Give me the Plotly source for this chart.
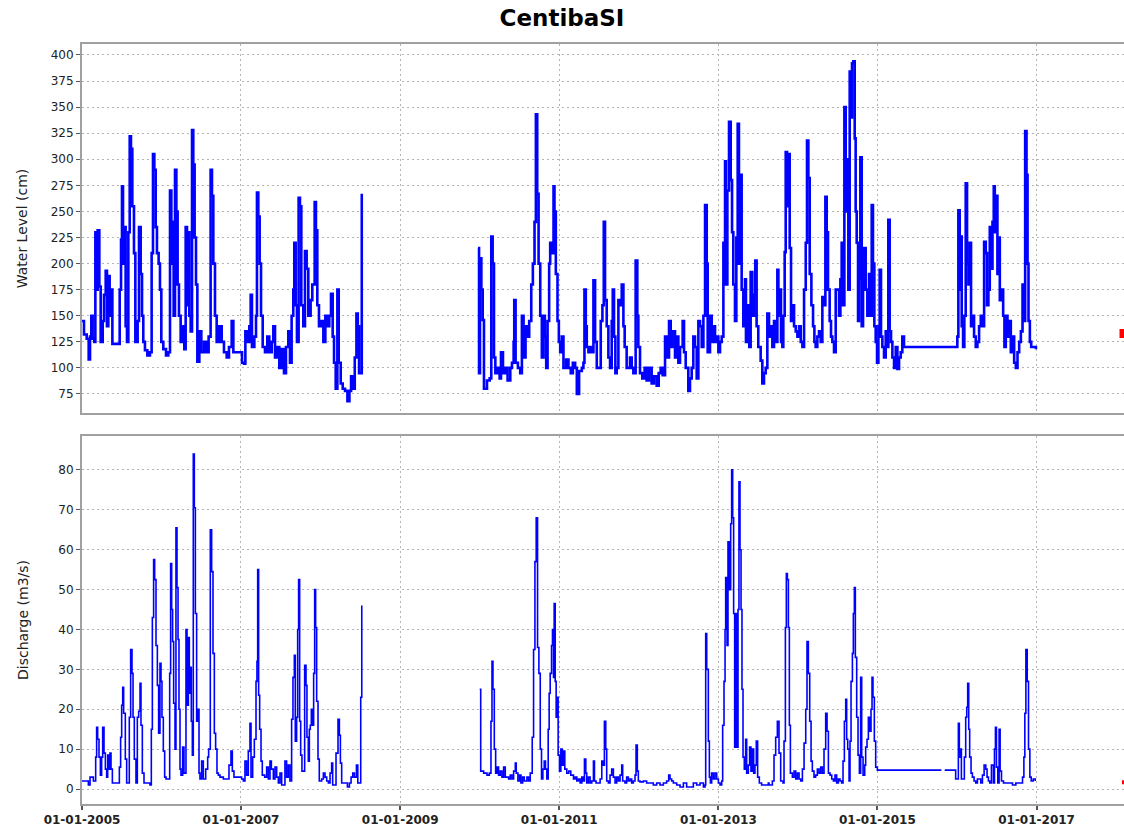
import pandas as pd
import plotly.graph_objects as go

# ---------------------------------------------------------------------------
# Station CentibaSI - readings as (decimal year, value)
# ---------------------------------------------------------------------------

# Water level (cm), Jan 2005 - Jul 2008
water_level_2005_2008 = [
    (2005.000, 145), (2005.025, 132), (2005.059, 128), (2005.084, 108), (2005.101, 130),
    (2005.117, 150), (2005.134, 128), (2005.155, 125), (2005.168, 230), (2005.184, 175),
    (2005.197, 232), (2005.218, 178), (2005.235, 125), (2005.260, 145), (2005.277, 170),
    (2005.298, 193), (2005.314, 140), (2005.331, 188), (2005.348, 150), (2005.365, 175),
    (2005.382, 123), (2005.457, 123), (2005.474, 175), (2005.491, 223), (2005.503, 274),
    (2005.516, 200), (2005.532, 235), (2005.549, 140), (2005.566, 125), (2005.583, 230),
    (2005.600, 322), (2005.616, 310), (2005.633, 255), (2005.654, 210), (2005.671, 125),
    (2005.700, 145), (2005.717, 235), (2005.738, 190), (2005.755, 150), (2005.771, 125),
    (2005.792, 117), (2005.822, 112), (2005.855, 115), (2005.876, 210), (2005.893, 305),
    (2005.910, 290), (2005.927, 235), (2005.943, 210), (2005.964, 200), (2005.981, 175),
    (2005.998, 125), (2006.023, 118), (2006.057, 112), (2006.086, 115), (2006.107, 270),
    (2006.124, 200), (2006.140, 240), (2006.153, 150), (2006.170, 290), (2006.187, 250),
    (2006.203, 180), (2006.220, 150), (2006.241, 125), (2006.266, 140), (2006.287, 118),
    (2006.304, 235), (2006.321, 160), (2006.333, 230), (2006.350, 150), (2006.367, 135),
    (2006.384, 328), (2006.400, 295), (2006.417, 225), (2006.434, 180), (2006.451, 106),
    (2006.476, 135), (2006.501, 115), (2006.535, 125), (2006.568, 115), (2006.593, 130),
    (2006.618, 290), (2006.635, 265), (2006.652, 200), (2006.673, 150), (2006.694, 125),
    (2006.727, 140), (2006.757, 125), (2006.786, 115), (2006.820, 110), (2006.849, 120),
    (2006.883, 145), (2006.904, 115), (2006.987, 115), (2007.013, 105), (2007.038, 104),
    (2007.055, 135), (2007.080, 125), (2007.105, 140), (2007.122, 170), (2007.138, 120),
    (2007.168, 130), (2007.189, 150), (2007.201, 268), (2007.218, 245), (2007.235, 200),
    (2007.252, 150), (2007.273, 120), (2007.302, 115), (2007.331, 130), (2007.356, 115),
    (2007.386, 125), (2007.407, 140), (2007.428, 110), (2007.457, 120), (2007.482, 100),
    (2007.512, 118), (2007.541, 95), (2007.566, 120), (2007.595, 135), (2007.616, 105),
    (2007.637, 150), (2007.658, 175), (2007.671, 220), (2007.688, 160), (2007.704, 125),
    (2007.725, 263), (2007.742, 255), (2007.759, 160), (2007.784, 140), (2007.805, 212),
    (2007.826, 195), (2007.847, 150), (2007.876, 165), (2007.897, 180), (2007.927, 259),
    (2007.943, 232), (2007.960, 160), (2007.981, 140), (2008.011, 145), (2008.036, 125),
    (2008.061, 150), (2008.090, 140), (2008.111, 150), (2008.132, 171), (2008.153, 130),
    (2008.170, 105), (2008.191, 80), (2008.212, 175), (2008.229, 105), (2008.254, 85),
    (2008.279, 80), (2008.308, 78), (2008.338, 68), (2008.363, 78), (2008.384, 92),
    (2008.405, 80), (2008.430, 110), (2008.451, 152), (2008.468, 140), (2008.484, 95),
    (2008.505, 95), (2008.518, 267),
]

# Water level (cm), Dec 2009 - Dec 2016
water_level_2010_2016 = [
    (2009.979, 215), (2009.992, 95), (2010.004, 205), (2010.021, 175), (2010.038, 146),
    (2010.054, 80), (2010.092, 88), (2010.126, 90), (2010.146, 226), (2010.163, 200),
    (2010.180, 110), (2010.197, 95), (2010.226, 100), (2010.251, 90), (2010.268, 115),
    (2010.293, 95), (2010.322, 100), (2010.351, 88), (2010.385, 100), (2010.406, 105),
    (2010.427, 125), (2010.435, 165), (2010.452, 105), (2010.481, 100), (2010.510, 95),
    (2010.531, 150), (2010.552, 110), (2010.577, 140), (2010.603, 130), (2010.623, 145),
    (2010.649, 180), (2010.669, 200), (2010.690, 240), (2010.707, 343), (2010.724, 267),
    (2010.741, 200), (2010.762, 150), (2010.782, 110), (2010.803, 150), (2010.820, 130),
    (2010.837, 100), (2010.854, 145), (2010.874, 200), (2010.887, 220), (2010.908, 210),
    (2010.929, 274), (2010.941, 250), (2010.958, 190), (2010.979, 145), (2010.996, 125),
    (2011.013, 115), (2011.033, 130), (2011.054, 100), (2011.088, 108), (2011.117, 100),
    (2011.146, 95), (2011.172, 105), (2011.201, 100), (2011.222, 75), (2011.251, 97),
    (2011.285, 100), (2011.305, 105), (2011.318, 175), (2011.335, 140), (2011.347, 120),
    (2011.368, 115), (2011.397, 120), (2011.418, 115), (2011.431, 184), (2011.452, 125),
    (2011.473, 100), (2011.502, 100), (2011.523, 145), (2011.544, 160), (2011.561, 240),
    (2011.577, 165), (2011.598, 140), (2011.619, 110), (2011.640, 100), (2011.661, 145),
    (2011.674, 175), (2011.690, 130), (2011.707, 95), (2011.724, 100), (2011.745, 165),
    (2011.766, 160), (2011.787, 180), (2011.808, 140), (2011.824, 120), (2011.849, 100),
    (2011.891, 110), (2011.912, 100), (2011.933, 95), (2011.962, 203), (2011.983, 150),
    (2011.996, 120), (2012.017, 95), (2012.046, 90), (2012.075, 100), (2012.100, 88),
    (2012.130, 100), (2012.163, 85), (2012.192, 92), (2012.226, 83), (2012.251, 95),
    (2012.276, 100), (2012.301, 93), (2012.331, 130), (2012.351, 110), (2012.381, 145),
    (2012.402, 120), (2012.423, 135), (2012.456, 110), (2012.477, 130), (2012.498, 105),
    (2012.519, 120), (2012.552, 145), (2012.569, 115), (2012.590, 100), (2012.623, 78),
    (2012.644, 90), (2012.665, 100), (2012.686, 130), (2012.707, 120), (2012.728, 90),
    (2012.749, 145), (2012.770, 140), (2012.791, 120), (2012.812, 150), (2012.833, 256),
    (2012.854, 200), (2012.866, 115), (2012.895, 150), (2012.916, 125), (2012.937, 140),
    (2012.958, 125), (2012.979, 130), (2013.000, 115), (2013.021, 125), (2013.042, 130),
    (2013.063, 220), (2013.084, 298), (2013.096, 180), (2013.113, 270), (2013.134, 336),
    (2013.155, 280), (2013.172, 230), (2013.188, 180), (2013.209, 145), (2013.226, 225),
    (2013.243, 334), (2013.259, 200), (2013.272, 285), (2013.293, 175), (2013.314, 140),
    (2013.335, 185), (2013.347, 125), (2013.364, 160), (2013.389, 120), (2013.406, 192),
    (2013.427, 150), (2013.448, 170), (2013.464, 203), (2013.481, 140), (2013.502, 120),
    (2013.532, 107), (2013.553, 85), (2013.574, 95), (2013.595, 100), (2013.616, 152),
    (2013.637, 130), (2013.658, 140), (2013.679, 120), (2013.700, 145), (2013.721, 125),
    (2013.742, 194), (2013.755, 150), (2013.771, 175), (2013.788, 125), (2013.805, 120),
    (2013.817, 150), (2013.834, 211), (2013.847, 307), (2013.864, 255), (2013.881, 305),
    (2013.897, 215), (2013.914, 145), (2013.931, 160), (2013.952, 140), (2013.973, 135),
    (2013.994, 130), (2014.015, 140), (2014.036, 125), (2014.057, 120), (2014.078, 175),
    (2014.099, 220), (2014.115, 318), (2014.132, 282), (2014.149, 190), (2014.170, 160),
    (2014.191, 140), (2014.208, 125), (2014.224, 120), (2014.245, 130), (2014.266, 135),
    (2014.287, 125), (2014.308, 168), (2014.329, 160), (2014.346, 264), (2014.363, 230),
    (2014.379, 175), (2014.400, 145), (2014.417, 130), (2014.434, 125), (2014.455, 115),
    (2014.476, 175), (2014.497, 175), (2014.518, 150), (2014.535, 185), (2014.551, 220),
    (2014.568, 160), (2014.585, 350), (2014.602, 250), (2014.619, 300), (2014.635, 175),
    (2014.652, 384), (2014.669, 340), (2014.681, 392), (2014.698, 394), (2014.715, 320),
    (2014.727, 250), (2014.740, 220), (2014.757, 145), (2014.769, 185), (2014.786, 302),
    (2014.803, 140), (2014.820, 200), (2014.836, 215), (2014.853, 175), (2014.874, 150),
    (2014.895, 190), (2014.912, 150), (2014.929, 256), (2014.945, 200), (2014.962, 140),
    (2014.979, 125), (2014.996, 105), (2015.013, 140), (2015.029, 194), (2015.046, 130),
    (2015.063, 120), (2015.084, 110), (2015.105, 135), (2015.126, 120), (2015.138, 242),
    (2015.155, 135), (2015.172, 125), (2015.189, 110), (2015.210, 100), (2015.231, 120),
    (2015.252, 99), (2015.273, 110), (2015.294, 115), (2015.314, 130), (2015.335, 120),
    (2015.356, 120), (2015.977, 120), (2016.006, 130), (2016.019, 251), (2016.036, 175),
    (2016.048, 226), (2016.061, 140), (2016.078, 120), (2016.094, 150), (2016.111, 277),
    (2016.128, 200), (2016.145, 180), (2016.161, 220), (2016.178, 140), (2016.195, 150),
    (2016.216, 130), (2016.237, 120), (2016.258, 125), (2016.279, 140), (2016.300, 150),
    (2016.321, 140), (2016.342, 221), (2016.363, 210), (2016.379, 160), (2016.396, 175),
    (2016.413, 235), (2016.430, 195), (2016.447, 240), (2016.463, 274), (2016.476, 230),
    (2016.493, 265), (2016.509, 190), (2016.522, 225), (2016.539, 165), (2016.560, 175),
    (2016.581, 150), (2016.597, 120), (2016.614, 150), (2016.635, 130), (2016.656, 145),
    (2016.677, 115), (2016.698, 130), (2016.719, 105), (2016.740, 100), (2016.761, 115),
    (2016.782, 125), (2016.803, 135), (2016.824, 180), (2016.841, 145), (2016.857, 327),
    (2016.874, 285), (2016.887, 200), (2016.899, 145), (2016.916, 125), (2016.933, 120),
    (2016.958, 120), (2016.992, 118),
]

# Discharge (m3/s), Jan 2005 - Jul 2008
discharge_2005_2008 = [
    (2005.000, 2.0), (2005.038, 2.0), (2005.080, 1.0), (2005.101, 3.0), (2005.143, 2.0),
    (2005.172, 8.0), (2005.184, 15.5), (2005.197, 12.5), (2005.214, 8.0), (2005.231, 3.5),
    (2005.247, 8.0), (2005.260, 15.5), (2005.277, 9.0), (2005.294, 5.0), (2005.310, 3.0),
    (2005.323, 8.5), (2005.340, 5.0), (2005.352, 9.0), (2005.365, 5.0), (2005.382, 1.5),
    (2005.457, 1.5), (2005.470, 5.5), (2005.486, 13.0), (2005.499, 21.0), (2005.512, 25.5),
    (2005.524, 19.0), (2005.545, 7.5), (2005.562, 1.5), (2005.595, 18.0), (2005.612, 35.0),
    (2005.629, 29.0), (2005.642, 18.0), (2005.658, 7.5), (2005.679, 1.5), (2005.696, 18.0),
    (2005.713, 19.5), (2005.730, 26.5), (2005.742, 16.0), (2005.759, 4.0), (2005.780, 1.5),
    (2005.855, 1.0), (2005.872, 15.0), (2005.885, 43.0), (2005.901, 57.5), (2005.914, 52.5),
    (2005.931, 36.0), (2005.948, 26.0), (2005.964, 14.0), (2005.981, 31.5), (2005.994, 27.0),
    (2006.006, 18.0), (2006.023, 9.5), (2006.040, 3.0), (2006.057, 2.5), (2006.103, 29.0),
    (2006.115, 56.5), (2006.128, 45.0), (2006.140, 37.0), (2006.153, 21.5), (2006.170, 10.0),
    (2006.182, 65.5), (2006.195, 50.5), (2006.208, 37.5), (2006.220, 20.0), (2006.233, 5.0),
    (2006.245, 3.5), (2006.266, 10.5), (2006.283, 4.0), (2006.308, 40.0), (2006.321, 21.0),
    (2006.338, 38.0), (2006.350, 24.0), (2006.363, 30.5), (2006.375, 17.0), (2006.388, 8.5),
    (2006.400, 84.0), (2006.413, 70.5), (2006.426, 44.0), (2006.442, 17.0), (2006.459, 20.0),
    (2006.472, 4.0), (2006.484, 2.5), (2006.505, 7.0), (2006.526, 2.5), (2006.556, 5.0),
    (2006.581, 8.0), (2006.593, 10.0), (2006.614, 65.0), (2006.631, 54.5), (2006.648, 34.0),
    (2006.665, 14.0), (2006.681, 10.0), (2006.698, 4.0), (2006.715, 3.5), (2006.736, 3.0),
    (2006.778, 2.5), (2006.849, 6.0), (2006.874, 9.5), (2006.891, 4.5), (2006.912, 3.0),
    (2007.008, 2.5), (2007.029, 2.0), (2007.050, 7.0), (2007.071, 3.5), (2007.092, 9.5),
    (2007.113, 16.5), (2007.126, 3.0), (2007.147, 8.0), (2007.168, 12.5), (2007.189, 27.0),
    (2007.201, 32.0), (2007.210, 55.0), (2007.222, 23.5), (2007.235, 15.0), (2007.252, 7.0),
    (2007.268, 3.5), (2007.298, 3.0), (2007.323, 5.5), (2007.344, 2.5), (2007.365, 7.0),
    (2007.382, 5.0), (2007.407, 2.5), (2007.428, 5.5), (2007.449, 3.0), (2007.470, 1.5),
    (2007.491, 4.0), (2007.512, 1.0), (2007.553, 7.0), (2007.574, 3.0), (2007.595, 6.0),
    (2007.616, 2.0), (2007.637, 17.5), (2007.654, 28.0), (2007.671, 33.5), (2007.683, 12.0),
    (2007.700, 18.0), (2007.713, 40.0), (2007.725, 52.5), (2007.738, 17.0), (2007.751, 8.5),
    (2007.767, 4.5), (2007.801, 31.0), (2007.818, 26.0), (2007.830, 13.0), (2007.847, 7.0),
    (2007.860, 15.0), (2007.872, 16.0), (2007.885, 20.0), (2007.897, 16.0), (2007.914, 29.0),
    (2007.927, 50.0), (2007.939, 40.5), (2007.952, 22.0), (2007.969, 7.5), (2007.985, 2.0),
    (2008.015, 2.5), (2008.036, 4.0), (2008.057, 3.0), (2008.078, 2.0), (2008.099, 1.5),
    (2008.120, 4.0), (2008.140, 6.5), (2008.153, 1.0), (2008.195, 9.0), (2008.220, 17.5),
    (2008.237, 13.5), (2008.250, 6.5), (2008.266, 1.5), (2008.308, 1.5), (2008.338, 0.5),
    (2008.363, 1.5), (2008.384, 3.0), (2008.405, 4.0), (2008.426, 3.0), (2008.451, 6.0),
    (2008.468, 1.5), (2008.493, 1.5), (2008.505, 23.0), (2008.518, 46.0),
]

# Discharge (m3/s), Jan 2010 - Oct 2015
discharge_2010_2015 = [
    (2010.000, 25.0), (2010.013, 4.5), (2010.050, 4.0), (2010.092, 3.5), (2010.121, 4.0),
    (2010.142, 17.0), (2010.155, 32.0), (2010.167, 25.0), (2010.184, 10.0), (2010.201, 4.0),
    (2010.218, 5.5), (2010.238, 3.5), (2010.259, 4.5), (2010.280, 3.0), (2010.301, 5.5),
    (2010.322, 3.0), (2010.343, 3.0), (2010.364, 2.5), (2010.385, 3.5), (2010.406, 2.5),
    (2010.427, 4.5), (2010.448, 6.5), (2010.460, 4.0), (2010.481, 2.0), (2010.502, 3.5),
    (2010.519, 1.5), (2010.540, 3.0), (2010.561, 2.0), (2010.594, 3.0), (2010.615, 2.0),
    (2010.636, 4.0), (2010.661, 13.0), (2010.678, 35.0), (2010.695, 57.0), (2010.711, 68.0),
    (2010.728, 35.5), (2010.745, 29.0), (2010.762, 10.0), (2010.778, 2.5), (2010.795, 5.0),
    (2010.812, 7.0), (2010.828, 5.0), (2010.845, 2.5), (2010.862, 15.0), (2010.874, 24.0),
    (2010.887, 29.0), (2010.904, 36.0), (2010.916, 40.0), (2010.929, 28.0), (2010.937, 46.5),
    (2010.950, 27.0), (2010.962, 18.0), (2010.975, 23.0), (2010.987, 8.5), (2011.004, 4.5),
    (2011.021, 10.0), (2011.038, 6.0), (2011.054, 9.5), (2011.071, 5.0), (2011.096, 4.0),
    (2011.121, 4.5), (2011.146, 3.5), (2011.180, 2.5), (2011.201, 3.0), (2011.222, 2.0),
    (2011.243, 2.5), (2011.264, 1.5), (2011.285, 3.0), (2011.305, 2.0), (2011.318, 7.5),
    (2011.335, 4.0), (2011.347, 1.5), (2011.368, 3.0), (2011.389, 1.5), (2011.410, 2.0),
    (2011.431, 7.0), (2011.444, 2.0), (2011.464, 1.5), (2011.494, 1.5), (2011.515, 2.5),
    (2011.536, 7.0), (2011.556, 6.0), (2011.569, 17.0), (2011.586, 10.0), (2011.598, 2.0),
    (2011.619, 1.5), (2011.640, 3.5), (2011.661, 5.0), (2011.682, 3.0), (2011.703, 1.5),
    (2011.724, 3.0), (2011.745, 2.0), (2011.766, 3.5), (2011.787, 6.0), (2011.799, 2.0),
    (2011.828, 1.5), (2011.849, 3.0), (2011.870, 2.0), (2011.891, 2.5), (2011.912, 1.5),
    (2011.933, 2.0), (2011.954, 3.5), (2011.967, 11.0), (2011.983, 4.5), (2011.996, 2.0),
    (2012.017, 1.8), (2012.059, 2.0), (2012.100, 1.5), (2012.142, 1.5), (2012.184, 1.0),
    (2012.226, 1.5), (2012.268, 1.0), (2012.310, 1.5), (2012.351, 2.0), (2012.377, 3.5),
    (2012.393, 2.5), (2012.414, 2.0), (2012.435, 1.5), (2012.477, 1.0), (2012.519, 0.5),
    (2012.561, 1.5), (2012.602, 0.5), (2012.644, 0.5), (2012.686, 1.5), (2012.728, 1.0),
    (2012.770, 1.5), (2012.791, 1.5), (2012.812, 0.5), (2012.833, 1.0), (2012.841, 39.0),
    (2012.854, 30.0), (2012.874, 12.0), (2012.887, 3.0), (2012.900, 1.5), (2012.916, 4.0),
    (2012.937, 2.5), (2012.958, 4.0), (2012.979, 2.5), (2013.000, 1.5), (2013.021, 1.0),
    (2013.042, 2.0), (2013.054, 16.0), (2013.071, 27.0), (2013.084, 40.0), (2013.092, 53.0),
    (2013.109, 36.0), (2013.121, 62.0), (2013.138, 50.0), (2013.155, 66.5), (2013.167, 80.0),
    (2013.180, 68.0), (2013.192, 44.0), (2013.205, 10.5), (2013.222, 44.0), (2013.234, 10.5),
    (2013.247, 45.0), (2013.259, 77.0), (2013.272, 60.0), (2013.285, 45.0), (2013.297, 25.0),
    (2013.310, 8.0), (2013.326, 5.0), (2013.343, 12.5), (2013.356, 4.0), (2013.377, 6.0),
    (2013.393, 10.5), (2013.410, 4.5), (2013.427, 10.0), (2013.444, 4.0), (2013.460, 6.0),
    (2013.477, 12.0), (2013.494, 3.0), (2013.515, 1.5), (2013.544, 1.0), (2013.586, 1.0),
    (2013.628, 1.5), (2013.637, 1.0), (2013.679, 2.0), (2013.700, 8.5), (2013.721, 13.0),
    (2013.742, 17.0), (2013.763, 9.0), (2013.784, 2.0), (2013.813, 1.5), (2013.826, 12.0),
    (2013.843, 40.5), (2013.855, 54.0), (2013.868, 52.5), (2013.881, 40.5), (2013.893, 16.0),
    (2013.906, 4.0), (2013.931, 3.0), (2013.952, 4.5), (2013.973, 2.5), (2013.994, 4.0),
    (2014.015, 2.5), (2014.036, 2.0), (2014.057, 5.0), (2014.078, 11.5), (2014.099, 20.0),
    (2014.115, 37.0), (2014.132, 29.0), (2014.149, 17.0), (2014.166, 7.0), (2014.182, 4.5),
    (2014.203, 3.0), (2014.224, 3.5), (2014.245, 5.0), (2014.266, 4.0), (2014.287, 5.5),
    (2014.308, 4.0), (2014.329, 10.0), (2014.350, 19.0), (2014.367, 14.5), (2014.384, 4.0),
    (2014.405, 3.5), (2014.426, 2.5), (2014.447, 2.0), (2014.467, 3.5), (2014.488, 1.5),
    (2014.509, 2.5), (2014.530, 2.0), (2014.551, 1.5), (2014.568, 7.0), (2014.585, 17.0),
    (2014.602, 22.5), (2014.614, 12.5), (2014.627, 10.0), (2014.644, 2.0), (2014.656, 12.0),
    (2014.669, 27.0), (2014.686, 34.0), (2014.698, 44.0), (2014.711, 50.5), (2014.723, 33.0),
    (2014.740, 18.0), (2014.757, 8.5), (2014.774, 4.0), (2014.790, 28.0), (2014.803, 8.0),
    (2014.820, 3.5), (2014.841, 6.0), (2014.853, 10.5), (2014.870, 12.5), (2014.887, 18.0),
    (2014.904, 14.5), (2014.920, 20.0), (2014.933, 28.0), (2014.945, 23.0), (2014.962, 12.0),
    (2014.979, 5.5), (2015.000, 4.75), (2015.805, 4.75),
]

# Discharge (m3/s), Nov 2015 - Dec 2016
discharge_2015_2016 = [
    (2015.847, 4.75), (2015.964, 4.75), (2015.985, 2.5), (2016.006, 2.5), (2016.019, 16.5),
    (2016.031, 8.0), (2016.044, 10.0), (2016.057, 2.5), (2016.078, 2.5), (2016.094, 8.0),
    (2016.111, 18.0), (2016.124, 20.5), (2016.136, 26.5), (2016.149, 15.0), (2016.161, 8.0),
    (2016.178, 4.0), (2016.195, 3.0), (2016.216, 2.0), (2016.237, 1.5), (2016.258, 2.5),
    (2016.300, 1.5), (2016.321, 3.5), (2016.342, 6.0), (2016.363, 5.0), (2016.379, 3.0),
    (2016.396, 2.0), (2016.413, 1.5), (2016.434, 6.0), (2016.459, 1.5), (2016.472, 10.0),
    (2016.484, 15.5), (2016.497, 5.5), (2016.514, 1.5), (2016.530, 15.0), (2016.543, 4.5),
    (2016.560, 2.0), (2016.585, 1.5), (2016.656, 1.5), (2016.698, 1.0), (2016.740, 1.5),
    (2016.803, 1.5), (2016.824, 3.0), (2016.841, 8.0), (2016.853, 19.0), (2016.866, 35.0),
    (2016.883, 27.0), (2016.899, 10.0), (2016.916, 3.0), (2016.933, 2.0), (2016.958, 2.5),
    (2016.983, 2.0),
]

# Latest unvalidated readings, drawn in red at the end of the window
pending_year = [2018.1]
pending_water_level = [133]
pending_discharge = [1.7]

# Visible time window (decimal years)
window_start_year = 2005.0
window_end_year = 2018.1

BLUE = "#0000ff"
RED = "#ff0000"
FONT = "DejaVu Sans"


def year_to_ts(y):
    """Convert a decimal year to a timestamp."""
    if y is None:
        return None
    yr = int(y)
    start = pd.Timestamp(yr, 1, 1)
    end = pd.Timestamp(yr + 1, 1, 1)
    return start + (end - start) * (y - yr)


def join_segments(*segments):
    """Chain segments into one series, breaking the line between them."""
    xs, ys = [], []
    for i, seg in enumerate(segments):
        if i:
            xs.append(None)
            ys.append(None)
        for t, v in seg:
            xs.append(year_to_ts(t))
            ys.append(v)
    return xs, ys


wl_x, wl_y = join_segments(water_level_2005_2008, water_level_2010_2016)
q_x, q_y = join_segments(discharge_2005_2008, discharge_2010_2015, discharge_2015_2016)
pend_x = [year_to_ts(t) for t in pending_year]

fig = go.Figure()

fig.add_trace(go.Scatter(
    x=wl_x, y=wl_y, mode="lines", connectgaps=False,
    line=dict(color=BLUE, width=2.6, shape="hv"),
    xaxis="x", yaxis="y", showlegend=False, hoverinfo="skip",
))
fig.add_trace(go.Scatter(
    x=pend_x, y=pending_water_level, mode="markers",
    marker=dict(color=RED, size=9, symbol="square"),
    xaxis="x", yaxis="y", showlegend=False, hoverinfo="skip",
))
fig.add_trace(go.Scatter(
    x=q_x, y=q_y, mode="lines", connectgaps=False,
    line=dict(color=BLUE, width=1.6, shape="hv"),
    xaxis="x2", yaxis="y2", showlegend=False, hoverinfo="skip",
))
fig.add_trace(go.Scatter(
    x=pend_x, y=pending_discharge, mode="markers",
    marker=dict(color=RED, size=4, symbol="square"),
    xaxis="x2", yaxis="y2", showlegend=False, hoverinfo="skip",
))

grid = dict(
    showgrid=True, gridcolor="#b4b4b4", gridwidth=1, griddash="1.5px,3.5px",
    zeroline=False, linecolor="#a0a0a0", linewidth=2, showline=True,
)
tickfont = dict(family=FONT, size=12, color="#222222")
x_range = [year_to_ts(window_start_year), year_to_ts(window_end_year)]

fig.update_layout(
    width=1124, height=830,
    margin=dict(l=82, r=0, t=44, b=26),
    paper_bgcolor="white", plot_bgcolor="white",
    title=dict(
        text="CentibaSI", x=0.5, xref="container", xanchor="center",
        y=0.978, yref="container", yanchor="middle",
        font=dict(family=FONT, size=23, color="#000000", weight="bold"),
    ),
    # x axes draw the top and bottom frame edges; y axes only the left edge
    xaxis=dict(
        **grid, mirror=True, type="date", domain=[0, 1], anchor="y", range=x_range,
        tick0="2005-01-01", dtick="M24", showticklabels=False, ticks="",
    ),
    xaxis2=dict(
        **grid, mirror=True, type="date", domain=[0, 1], anchor="y2", range=x_range,
        tick0="2005-01-01", dtick="M24", tickformat="%d-%m-%Y",
        ticks="outside", ticklen=4, tickwidth=1.5, tickcolor="#555555",
        tickfont=dict(family=FONT, size=12, color="#222222", weight="bold"),
    ),
    yaxis=dict(
        **grid, mirror=False, domain=[0.5145, 1], anchor="x", range=[56.8, 410.5],
        tick0=0, dtick=25, ticks="outside", ticklen=4, tickcolor="#555555",
        tickfont=tickfont,
        title=dict(text="Water Level (cm)", font=dict(family=FONT, size=14, color="#222222"),
                   standoff=20),
    ),
    yaxis2=dict(
        **grid, mirror=False, domain=[0, 0.4842], anchor="x2", range=[-3.75, 88.5],
        tick0=0, dtick=10, ticks="outside", ticklen=4, tickcolor="#555555",
        tickfont=tickfont,
        title=dict(text="Discharge (m3/s)", font=dict(family=FONT, size=14, color="#222222"),
                   standoff=26),
    ),
)

fig.write_html("out.html")
